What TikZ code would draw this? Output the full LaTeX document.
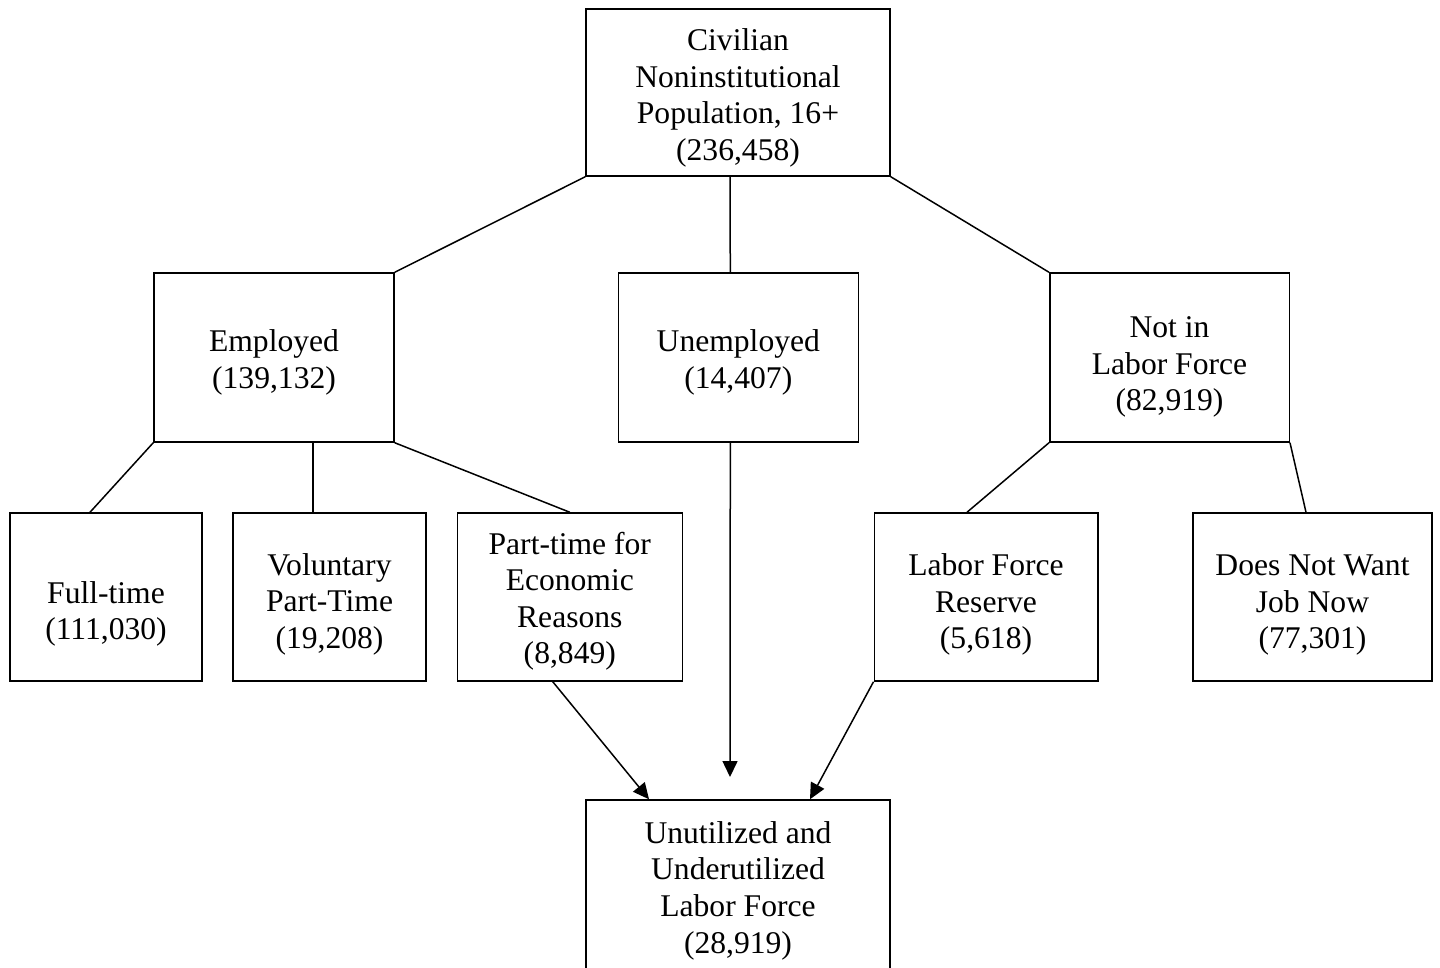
\documentclass[tikz,border=0pt]{standalone}
\usepackage{fontspec}
\setmainfont{Liberation Serif}
\usetikzlibrary{arrows.meta,calc}
\begin{document}
\begin{tikzpicture}[x=1pt,y=-1pt,
  box/.style={draw=black, line width=1.5pt, rectangle, inner sep=0pt},
  lbl/.style={anchor=base, inner sep=0pt, font=\fontsize{31.6}{36.6}\selectfont},
  conn/.style={draw=black, line width=1.5pt},
  arr/.style={draw=black, line width=1.5pt, -{Triangle[length=16pt,width=15pt]}}]
\useasboundingbox (0,0) rectangle (1440,967);
% boxes
\node[box, minimum width=304pt, minimum height=167pt] (top) at (738,92.5) {};
\node[box, minimum width=240pt, minimum height=169pt] (emp) at (274,357.5) {};
\node[box, minimum width=240pt, minimum height=169pt] (unemp) at (738.3,357.5) {};
\node[box, minimum width=239.5pt, minimum height=169pt] (nilf) at (1169.5,357.5) {};
\node[box, minimum width=192pt, minimum height=168pt] (ft) at (106,597) {};
\node[box, minimum width=193pt, minimum height=168pt] (vol) at (329.5,597) {};
\node[box, minimum width=225pt, minimum height=168pt] (pte) at (569.8,597) {};
\node[box, minimum width=223.5pt, minimum height=168pt] (lfr) at (986,597) {};
\node[box, minimum width=239pt, minimum height=168pt] (dnw) at (1312.5,597) {};
\node[box, minimum width=304pt, minimum height=170pt] (bot) at (738,885) {};
% texts
\node[lbl] (ttop) at (738,50.7) {\begin{tabular}[t]{@{}c@{}}Civilian\\Noninstitutional\\Population, 16+\\(236,458)\end{tabular}};
\node[lbl] (temp) at (274,351.7) {\begin{tabular}[t]{@{}c@{}}Employed\\(139,132)\end{tabular}};
\node[lbl] (tunemp) at (738.3,351.7) {\begin{tabular}[t]{@{}c@{}}Unemployed\\(14,407)\end{tabular}};
\node[lbl] (tnilf) at (1169.5,337.7) {\begin{tabular}[t]{@{}c@{}}Not in\\Labor Force\\(82,919)\end{tabular}};
\node[lbl] (tft) at (106,603.3) {\begin{tabular}[t]{@{}c@{}}Full-time\\(111,030)\end{tabular}};
\node[lbl] (tvol) at (329.5,575) {\begin{tabular}[t]{@{}c@{}}Voluntary\\Part-Time\\(19,208)\end{tabular}};
\node[lbl] (tpte) at (569.8,554) {\begin{tabular}[t]{@{}c@{}}Part-time for\\Economic\\Reasons\\(8,849)\end{tabular}};
\node[lbl] (tlfr) at (986,575.7) {\begin{tabular}[t]{@{}c@{}}Labor Force\\Reserve\\(5,618)\end{tabular}};
\node[lbl] (tdnw) at (1312.5,575.7) {\begin{tabular}[t]{@{}c@{}}Does Not Want\\Job Now\\(77,301)\end{tabular}};
\node[lbl] (tbot) at (738,843.3) {\begin{tabular}[t]{@{}c@{}}Unutilized and\\Underutilized\\Labor Force\\(28,919)\end{tabular}};
% connectors
\draw[conn] (top.south west) -- (emp.north east);
\draw[conn] ([xshift=-8pt]top.south) -- ([xshift=-8pt]unemp.north);
\draw[conn] (top.south east) -- (nilf.north west);
\draw[conn] (emp.south west) -- ([xshift=-16pt]ft.north);
\draw[conn] ([xshift=-16.5pt]vol.north) -- ([xshift=-16.5pt]vol.north |- emp.south);
\draw[conn] (emp.south east) -- (pte.north);
\draw[conn] (nilf.south west) -- ([xshift=-19pt]lfr.north);
\draw[conn] (nilf.south east) -- ([xshift=-6.5pt]dnw.north);
\coordinate (uend) at (730,777);
\draw[arr] ([xshift=-8pt]unemp.south) -- (uend);
\draw[arr] ([xshift=-17pt]pte.south) -- ([xshift=-89pt]bot.north);
\draw[arr] (lfr.south west) -- ([xshift=72pt]bot.north);
\end{tikzpicture}
\end{document}
